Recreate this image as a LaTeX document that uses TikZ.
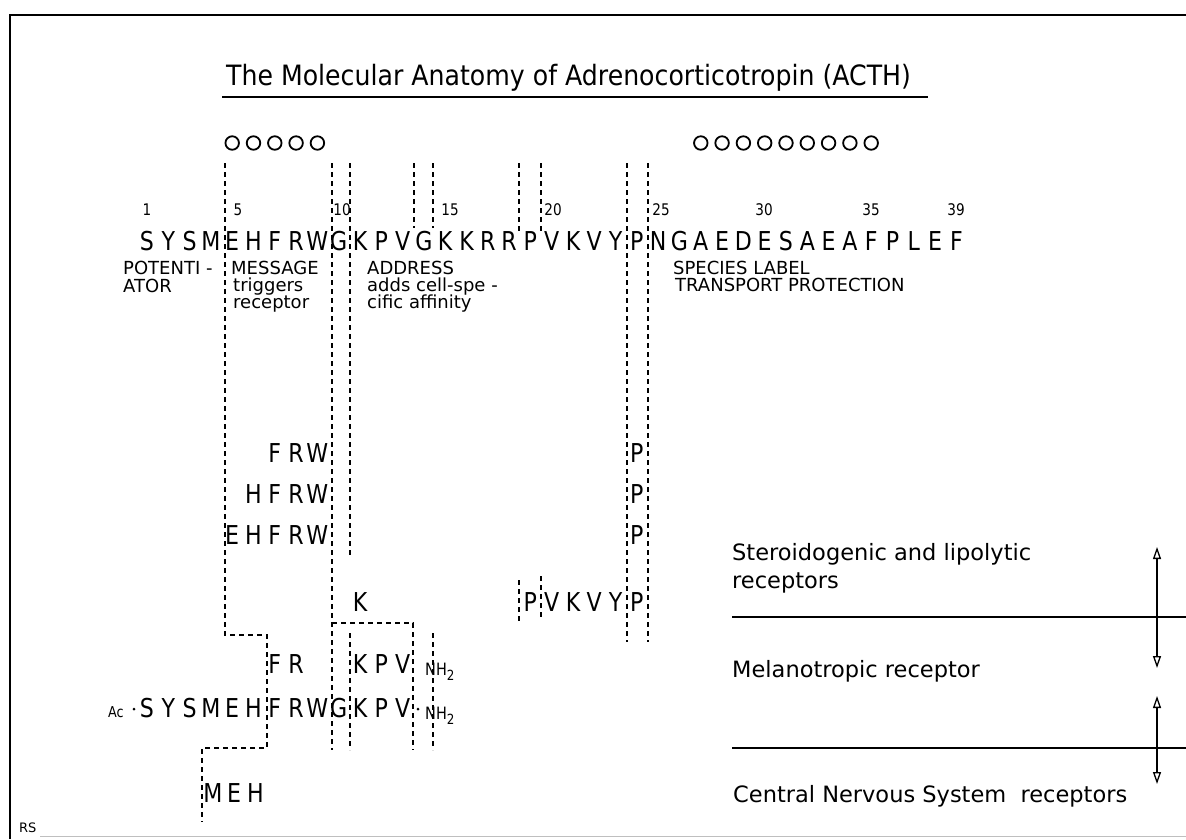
\documentclass[tikz,border=0pt]{standalone}
\usepackage{fontspec}
\setmainfont{DejaVu Sans}
\usetikzlibrary{arrows.meta}
\newcommand{\cnd}[1]{\scalebox{0.85}[1]{#1}}
\begin{document}
\begin{tikzpicture}[x=1pt,y=-1pt,
  seq/.style={font=\fontsize{26}{26}\selectfont, inner sep=0pt, anchor=base},
  num/.style={font=\fontsize{16}{16}\selectfont, inner sep=0pt, anchor=base},
  lab/.style={font=\fontsize{18}{18}\selectfont, inner sep=0pt, anchor=base west},
  big/.style={font=\fontsize{22.5}{22.5}\selectfont, inner sep=0pt, anchor=base west},
  small/.style={font=\fontsize{15}{15}\selectfont, inner sep=0pt, anchor=base west},
  dl/.style={line width=1.3pt, dash pattern=on 5pt off 4pt},
  ring/.style={circle, draw, line width=1.8pt, minimum size=13.5pt, inner sep=0pt},
  rulel/.style={line width=1.5pt},
  dbl/.style={line width=1.6pt, {Triangle[open,length=12pt,width=8pt,line width=1.3pt]}-{Triangle[open,length=12pt,width=8pt,line width=1.3pt]}}
]
\useasboundingbox (0,0) rectangle (1186,839);
% frame
\draw[line width=1.5pt] (10,839) -- (10,15) -- (1186,15);
\draw[line width=0.6pt, black!25] (40,836) -- (1186,836);
% title
\node[anchor=base west, inner sep=0pt, font=\fontsize{28}{28}\selectfont] (title) at (226,85) {\scalebox{0.9}[1]{The Molecular Anatomy of Adrenocorticotropin (ACTH)}};
\draw[rulel] (222,97) -- (928,97);
% circles
\foreach \r in {5,...,9} \node[ring] (c\r) at ({147+(\r-1)*21.3},143) {};
\foreach \r in {27,...,35} \node[ring] (c\r) at ({147+(\r-1)*21.3},143) {};
% numbers
\foreach \n/\x in {1/147,5/238,10/342,15/450,20/553,25/661,30/764,35/871,39/956}
  \node[num] (n\n) at (\x,215) {\cnd{\n}};
% main sequence
\foreach \c [count=\i] in {S,Y,S,M,E,H,F,R,W,G,K,P,V,G,K,K,R,R,P,V,K,V,Y,P,N,G,A,E,D,E,S,A,E,A,F,P,L,E,F}
  \node[seq] (s\i) at ({147+(\i-1)*21.3},250) {\cnd{\c}};
% region labels
\node[lab] (pot1) at (123,274) {POTENTI -};
\node[lab] (pot2) at (123,292) {ATOR};
\node[lab] (msg1) at (231,274) {MESSAGE};
\node[lab] (msg2) at (233,291) {triggers};
\node[lab] (msg3) at (233,308) {receptor};
\node[lab] (adr1) at (367,274) {ADDRESS};
\node[lab] (adr2) at (367,291) {adds cell-spe -};
\node[lab] (adr3) at (367,308) {cific affinity};
\node[lab] (sp1) at (673,274) {SPECIES LABEL};
\node[lab] (sp2) at (675,291) {TRANSPORT PROTECTION};
% fragment rows
\foreach \r/\c in {7/F,8/R,9/W,24/P} \node[seq] (ra\r) at ({147+(\r-1)*21.3},462) {\cnd{\c}};
\foreach \r/\c in {6/H,7/F,8/R,9/W,24/P} \node[seq] (rb\r) at ({147+(\r-1)*21.3},503) {\cnd{\c}};
\foreach \r/\c in {5/E,6/H,7/F,8/R,9/W,24/P} \node[seq] (rc\r) at ({147+(\r-1)*21.3},544) {\cnd{\c}};
\foreach \r/\c in {11/K,19/P,20/V,21/K,22/V,23/Y,24/P} \node[seq] (rd\r) at ({147+(\r-1)*21.3},611) {\cnd{\c}};
\foreach \r/\c in {7/F,8/R,11/K,12/P,13/V} \node[seq] (re\r) at ({147+(\r-1)*21.3},673) {\cnd{\c}};
\foreach \c [count=\i] in {S,Y,S,M,E,H,F,R,W,G,K,P,V} \node[seq] (rf\i) at ({147+(\i-1)*21.3},717) {\cnd{\c}};
\foreach \r/\c in {4/M,5/E,6/H} \node[seq] (rg\r) at ({149+(\r-1)*21.3},802) {\cnd{\c}};
% Ac and NH2
\node[small] (ac) at (108,717) {\cnd{Ac}};
\fill (134,709) circle (1.5pt);
\fill (418,709) circle (1.5pt);
\node[anchor=base west, inner sep=0pt, font=\fontsize{17}{17}\selectfont] (nh1) at (425,675) {\cnd{NH}\raisebox{-5pt}{\fontsize{14}{14}\selectfont\cnd{2}}};
\node[anchor=base west, inner sep=0pt, font=\fontsize{17}{17}\selectfont] (nh2) at (425,719) {\cnd{NH}\raisebox{-5pt}{\fontsize{14}{14}\selectfont\cnd{2}}};
% dashed separators
\draw[dl] (225,163) -- (225,635) -- (267,635) -- (267,748) -- (202,748) -- (202,822);
\draw[dl] (332,163) -- (332,750);
\draw[dl] (332,623) -- (413,623) -- (413,750);
\draw[dl] (350,163) -- (350,558);
\draw[dl] (350,633) -- (350,750);
\draw[dl] (414,163) -- (414,228);
\draw[dl] (433,163) -- (433,228);
\draw[dl] (433,633) -- (433,750);
\draw[dl] (519,163) -- (519,232);
\draw[dl] (541,163) -- (541,232);
\draw[dl] (519,580) -- (519,622);
\draw[dl] (541,576) -- (541,620);
\draw[dl] (627,163) -- (627,642);
\draw[dl] (648,163) -- (648,642);
% right side
\node[big] (ster1) at (732,560) {Steroidogenic and lipolytic};
\node[big] (ster2) at (732,588) {receptors};
\node[big] (mel) at (732,677) {Melanotropic receptor};
\node[big] (cns) at (733,802) {Central Nervous System\ \ receptors};
\draw[rulel] (732,617) -- (1186,617);
\draw[rulel] (732,748) -- (1186,748);
\coordinate (a1t) at (1157,547);
\coordinate (a1b) at (1157,668);
\coordinate (a2t) at (1157,696);
\coordinate (a2b) at (1157,784);
\draw[dbl] (a1t) -- (a1b);
\draw[dbl] (a2t) -- (a2b);
\node[small, font=\fontsize{13}{13}\selectfont] (rs) at (19,832) {RS};
\end{tikzpicture}
\end{document}
